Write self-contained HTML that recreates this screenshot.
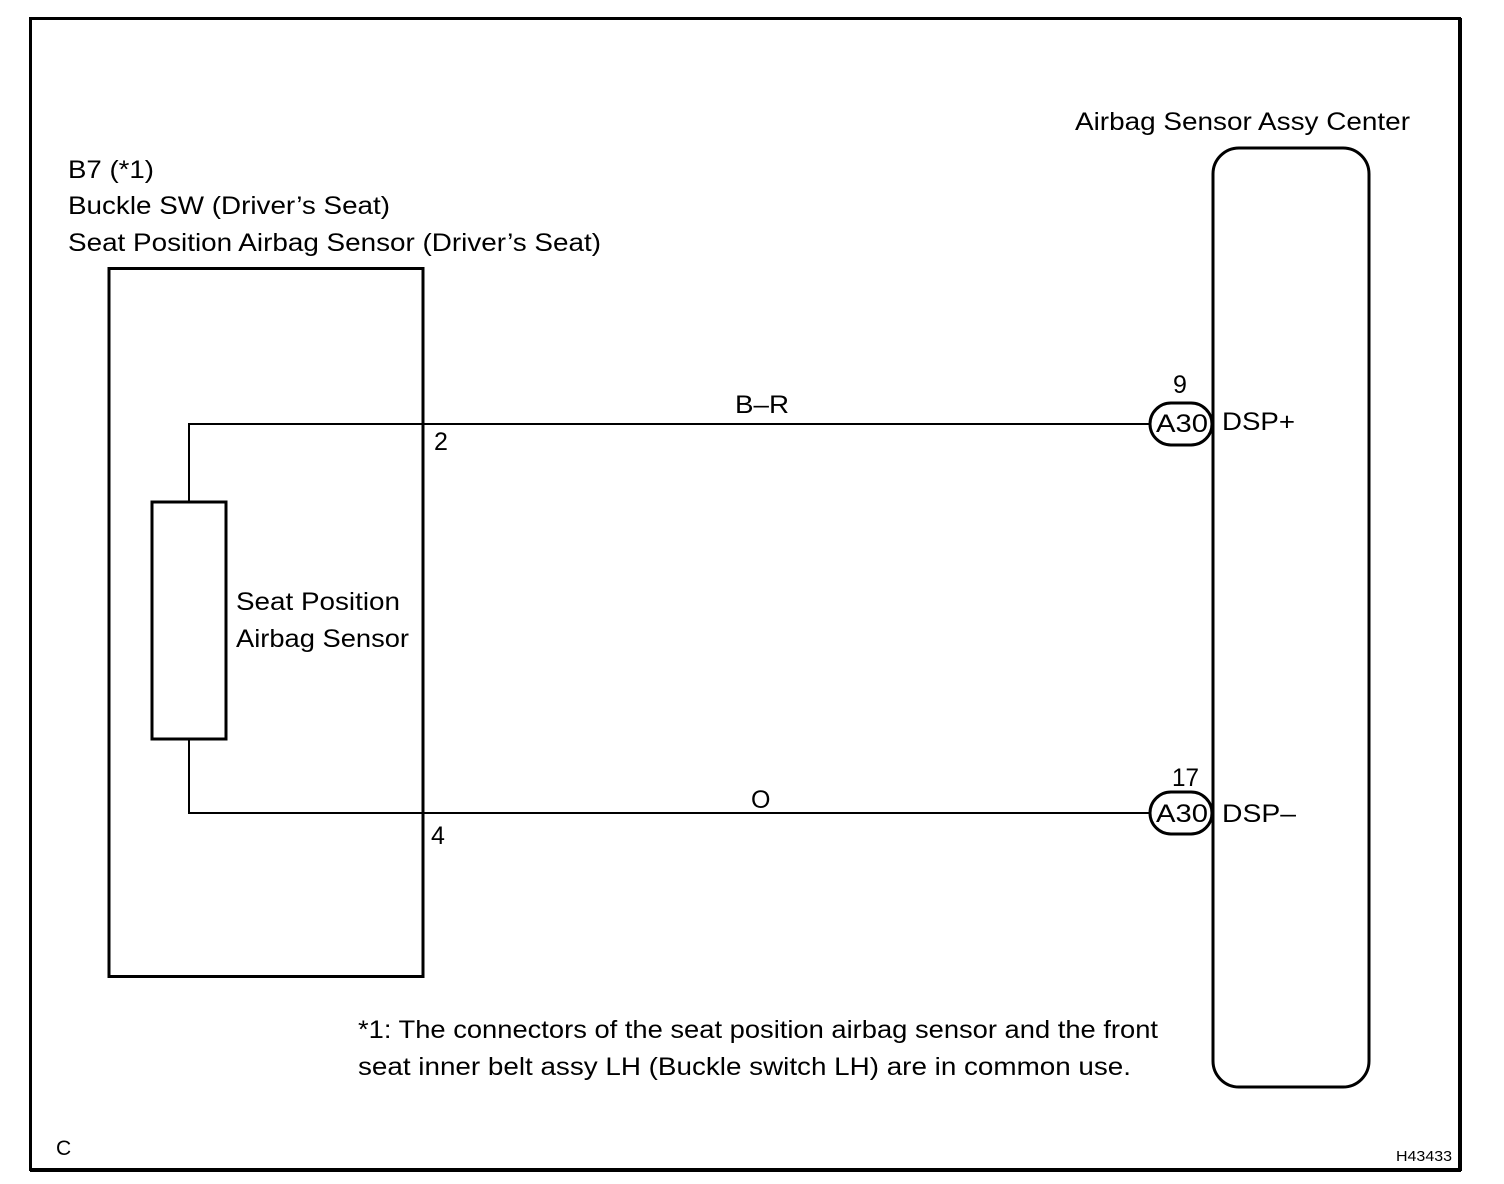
<!DOCTYPE html>
<html><head><meta charset="utf-8"><style>
html,body{margin:0;padding:0;background:#fff;}
svg{display:block;}
text{font-family:"Liberation Sans",Arial,sans-serif;font-size:25px;fill:#000;}
</style></head><body>
<svg width="1504" height="1184" viewBox="0 0 1504 1184" xmlns="http://www.w3.org/2000/svg">
<rect x="30.5" y="18.5" width="1429" height="1151" fill="none" stroke="#000" stroke-width="3"/>
<line x1="30" y1="1170" x2="1461" y2="1170" stroke="#000" stroke-width="4"/>
<line x1="1460" y1="18" x2="1460" y2="1171" stroke="#000" stroke-width="4"/>
<text x="68" y="178" textLength="86" lengthAdjust="spacingAndGlyphs">B7 (*1)</text>
<text x="68" y="214" textLength="322" lengthAdjust="spacingAndGlyphs">Buckle SW (Driver’s Seat)</text>
<text x="68" y="251" textLength="533" lengthAdjust="spacingAndGlyphs">Seat Position Airbag Sensor (Driver’s Seat)</text>
<rect x="109" y="268.5" width="314" height="708" fill="none" stroke="#000" stroke-width="3"/>
<rect x="152" y="502" width="74" height="237" fill="none" stroke="#000" stroke-width="3"/>
<polyline points="189,502 189,424 1150,424" fill="none" stroke="#000" stroke-width="2"/>
<polyline points="189,739 189,813 1150,813" fill="none" stroke="#000" stroke-width="2"/>
<text x="236" y="610" textLength="164" lengthAdjust="spacingAndGlyphs">Seat Position</text>
<text x="236" y="647" textLength="173" lengthAdjust="spacingAndGlyphs">Airbag Sensor</text>
<text x="434" y="450">2</text>
<text x="431" y="844">4</text>
<text x="735" y="413" textLength="54" lengthAdjust="spacingAndGlyphs">B–R</text>
<text x="751" y="808">O</text>
<text x="1075" y="130" textLength="335" lengthAdjust="spacingAndGlyphs">Airbag Sensor Assy Center</text>
<rect x="1150" y="403" width="62" height="42" rx="21" ry="21" fill="#fff" stroke="#000" stroke-width="3"/>
<rect x="1150" y="792" width="62" height="42" rx="21" ry="21" fill="#fff" stroke="#000" stroke-width="3"/>
<rect x="1213" y="148" width="156" height="939" rx="26" ry="26" fill="none" stroke="#000" stroke-width="3"/>
<text x="1156" y="432" textLength="52" lengthAdjust="spacingAndGlyphs">A30</text>
<text x="1156" y="822" textLength="52" lengthAdjust="spacingAndGlyphs">A30</text>
<text x="1173" y="393">9</text>
<text x="1172" y="786" textLength="27" lengthAdjust="spacingAndGlyphs">17</text>
<text x="1222" y="430" textLength="73" lengthAdjust="spacingAndGlyphs">DSP+</text>
<text x="1222" y="822" textLength="74" lengthAdjust="spacingAndGlyphs">DSP–</text>
<text x="358" y="1038" textLength="800" lengthAdjust="spacingAndGlyphs">*1: The connectors of the seat position airbag sensor and the front</text>
<text x="358" y="1075" textLength="773" lengthAdjust="spacingAndGlyphs">seat inner belt assy LH (Buckle switch LH) are in common use.</text>
<text x="56" y="1155" style="font-size:21px">C</text>
<text x="1396" y="1161" style="font-size:15px" textLength="56" lengthAdjust="spacingAndGlyphs">H43433</text>
</svg>
</body></html>
